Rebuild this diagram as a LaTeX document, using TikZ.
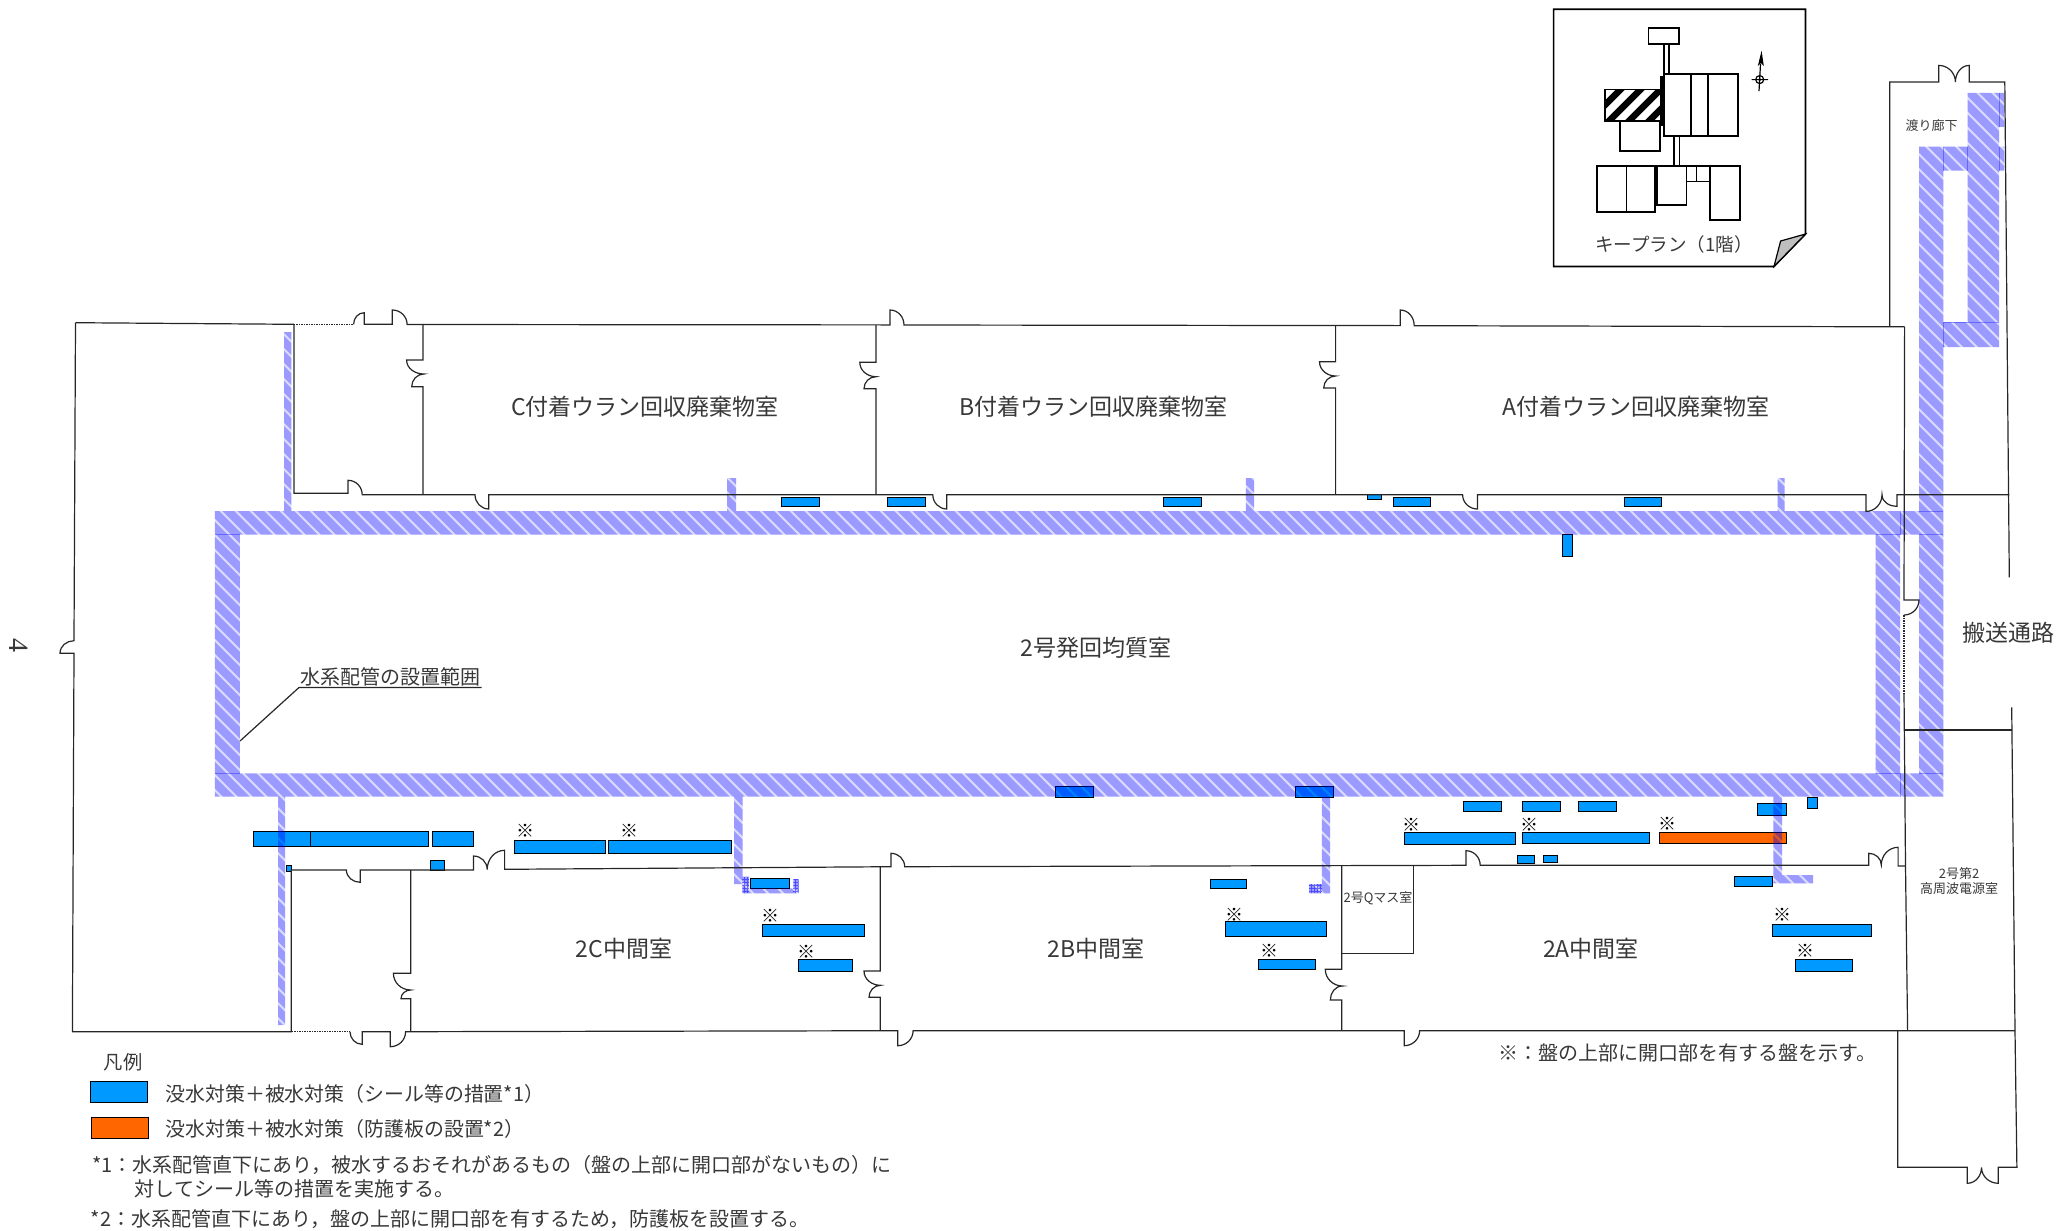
\documentclass[tikz,border=0pt]{standalone}
\usepackage{fontspec}
\setmainfont{Noto Sans CJK JP}
\newfontfamily\serifnum{Liberation Serif}
\newcommand{\fsz}[1]{\fontsize{#1bp}{#1bp}\selectfont}
\definecolor{plateblue}{HTML}{0099FF}
\definecolor{plateorange}{HTML}{FF6600}
\definecolor{pipeblue}{HTML}{0000FF}
\tikzset{
  wall/.style={draw=black!85,line width=1.2bp,line join=miter},
  dotwall/.style={draw=black!85,line width=1.2bp,dash pattern=on 1.5bp off 1bp},
  plate/.style={fill=plateblue,draw=black,line width=1bp},
  oplate/.style={fill=plateorange,draw=black,line width=1bp},
  key/.style={draw=black,line width=1.7bp},
  lab/.style={inner sep=0pt,text=black!78},
  big/.style={lab,font=\fsz{23}},
  mid/.style={lab,font=\fsz{19.9}},
  small/.style={lab,font=\fsz{13}},
  mk/.style={inner sep=0pt,text=black,font=\fsz{18}},
  seam/.style={draw=pipeblue,opacity=.35,line width=.8bp},
}
\begin{document}
\begin{tikzpicture}[x=1bp,y=-1bp]
\useasboundingbox (0,0) rectangle (2057,1230);
% ---------- plates
\foreach \a/\b/\c/\d in {
 253.6/831.3/310.2/846.3, 310.2/831.3/428/846.3, 432.7/831.3/473.5/846.3,
 514.8/840.7/605.1/853.3, 608.7/840.7/731.6/853.3,
 286.2/865/291.3/871.7, 430.6/860/444.4/870,
 750.7/878.7/789/888.7, 762.8/924/864.5/936, 798/959.3/852.7/971.3,
 781.6/497.3/819.4/506.7, 887.2/497.3/925.1/506.7, 1163.7/497.3/1201.6/506.7,
 1367.2/494.7/1381.2/499.3, 1393.2/497.3/1430.4/506.7, 1624/497.3/1661.2/506.7,
 1562.3/534.7/1572.1/556.7,
 1055.5/786.7/1093.4/797.3, 1295.8/786.7/1333.7/797.3,
 1210.9/879/1246.5/888.7, 1225/921.7/1326.9/936, 1258/959.3/1315/969.3,
 1463.3/801.3/1501.3/811, 1522/801.3/1560/811, 1578.6/801.3/1616.6/811,
 1757.8/803.7/1786.3/815.3, 1807.5/797/1817/808.7,
 1404.2/832/1515.6/844, 1522/832/1649.4/843.3,
 1517.3/855.7/1534.1/863, 1543.6/855.7/1557.5/862.7,
 1734.5/876.7/1772/886.3, 1772/924/1871.8/936, 1795.4/959.3/1852.8/971.3,
 90.8/1081/147.4/1102.7}
 {\draw[plate] (\a,\b) rectangle (\c,\d);}
\draw[oplate] (1659,832.7) rectangle (1786.3,843.7);
\draw[oplate] (91.3,1117) rectangle (148.5,1138.3);
% ---------- pipe range
\begin{scope}
\clip
 (214.8,511) rectangle (1943.3,534.5)
 (214.8,773.3) rectangle (1943.3,796.7)
 (214.8,511) rectangle (239.8,796.7)
 (1875.7,511) rectangle (1900,796.7)
 (1919,146.6) rectangle (1943.3,796.7)
 (1919,146.6) rectangle (2004.4,170.7)
 (1967.5,92.9) rectangle (1999.1,347)
 (1999.1,92.9) rectangle (2004.4,126.8)
 (1943,322) rectangle (1999.1,347)
 (284.2,332) rectangle (291.3,511.7)
 (727,478) rectangle (736.2,511.7)
 (1245.8,478) rectangle (1254.2,511.7)
 (1777.7,478) rectangle (1784.7,511.7)
 (278,796.7) rectangle (285.2,1025)
 (734.2,796.7) rectangle (742.6,884)
 (742.3,876.7) rectangle (749,893.3)
 (742.3,888.3) rectangle (798.7,893.3)
 (793.3,879) rectangle (798.7,893.3)
 (1321.9,796.7) rectangle (1330,893.3)
 (1309.2,884) rectangle (1321.9,893.3)
 (1773.3,796.7) rectangle (1782,883.3)
 (1773.3,875) rectangle (1813,883.3);
\fill[pipeblue,opacity=.14] (0,0) rectangle (2057,1230);
\foreach \c in {-1197.7,-1182.7,...,2050}
  \draw[pipeblue,opacity=.29,line width=8.3bp] (\c,0) -- (\c+1230,1230);
\draw[pipeblue,opacity=.5,line width=.6bp,step=3bp] (742.3,876.7) grid (749,893.3);
\draw[pipeblue,opacity=.5,line width=.6bp,step=3bp] (793.3,879) grid (798.7,893.3);
\draw[pipeblue,opacity=.5,line width=.6bp,step=3bp] (1309.2,884) grid (1321.9,893.3);
\end{scope}
\draw[seam] (214.8,534.8) -- (239.8,534.8) (214.8,773.3) -- (239.8,773.3)
 (1875.7,534.5) -- (1900,534.5) (1900,511) -- (1900,534.5)
 (1875.7,773.3) -- (1900,773.3) (1900,773.3) -- (1900,796.7)
 (1919,511) -- (1943.3,511) (1919,534.5) -- (1943.3,534.5)
 (1919,773.3) -- (1943.3,773.3)
 (1943,146.6) -- (1943,170.7) (1967.5,146.6) -- (1967.5,170.7)
 (1999.1,92.9) -- (1999.1,126.8) (1999.1,146.6) -- (1999.1,170.7)
 (1943,322) -- (1999.1,322) (1943,322) -- (1943,347);
% ---------- walls
\draw[wall] (75.5,322.7) -- (293.9,324.3);
\draw[dotwall] (293.9,324.3) -- (353.6,324.3);
\draw[wall] (353.6,324.3) to[out=90,in=180] (364.3,312.7) -- (364.3,324.3) -- (392.3,324.3)
  -- (392.3,310) to[out=0,in=90] (407.1,324.5) -- (890,324.9)
  -- (890,310) to[out=0,in=90] (904,325) -- (1400.2,325.6)
  -- (1400.2,310) to[out=0,in=90] (1414.2,325.7) -- (1904.6,326.8);
\draw[wall] (293.9,324.3) -- (293.9,493.3) -- (348,493.3) -- (348,480.3)
  to[out=0,in=90] (362.2,494.7) -- (475,494.7)
  to[out=-90,in=180] (488.8,509) -- (488.8,494.7) -- (932.8,494.7)
  to[out=-90,in=180] (946.8,509) -- (946.8,494.7) -- (1462.6,494.7)
  to[out=-90,in=180] (1477.4,509) -- (1477.4,494.7) -- (1866,494.7) -- (1866,511.4)
  to[out=0,in=-90] (1882,494.7) to[out=-90,in=180] (1897,506.4) -- (1897,494.7) -- (2009.4,494.7);
\draw[wall] (423,325) -- (423,360) -- (406.6,360) to[out=-90,in=180] (424,374)
  to[out=180,in=90] (411.7,386.7) -- (423,386.7) -- (423,494.7);
\draw[wall] (876,325) -- (876,362.3) -- (859.8,362.3) to[out=-90,in=180] (876,376.7)
  to[out=180,in=90] (864,388.7) -- (876,388.7) -- (876,494.7);
\draw[wall] (1335.6,325.5) -- (1335.6,361.7) -- (1319.5,361.7) to[out=-90,in=180] (1335.6,376)
  to[out=180,in=90] (1323.7,388) -- (1335.6,388) -- (1335.6,494.7);
% corridor
\draw[wall] (1889.7,326.6) -- (1889.7,82) -- (1938.7,82) -- (1938.7,65.4)
  to[out=0,in=90] (1955.4,82) to[out=90,in=180] (1969.3,65.4) -- (1969.3,82)
  -- (2004.8,82) -- (2009.3,577.3);
\draw[wall] (1904.6,326.8) -- (1904,600) -- (1919,600) to[out=-90,in=0] (1904,615);
\draw[dotwall] (1904,615) -- (1904,693.3);
\draw[wall] (1904,693.3) -- (1905.5,866) -- (1907.6,1030.7);
\draw[wall] (1904.5,730) -- (2011.7,730);
\draw[wall] (2011.7,707.3) -- (2015,1030.7) -- (2016.9,1167.3) -- (1998.3,1167.3) -- (1998.3,1183.3)
  to[out=180,in=-90] (1981.5,1167.3) to[out=-90,in=0] (1967.2,1183.3) -- (1967.2,1167.3)
  -- (1897.7,1167.3) -- (1897.7,1031);
% outer
\draw[wall] (75.5,322.7) -- (74,640.7) to[out=180,in=90] (60,653.3) -- (74,653.3) -- (72.4,1031.7) -- (291.8,1031.7);
\draw[dotwall] (291.8,1031.7) -- (350,1031.7);
\draw[wall] (350,1031.7) to[out=-90,in=180] (362.2,1044.3) -- (362.2,1031.7) -- (390.3,1031.7)
  -- (390.3,1046.7) to[out=0,in=-90] (405.6,1031.7) -- (897.8,1030.7)
  -- (897.8,1045.7) to[out=0,in=-90] (913.1,1030.7) -- (1404.2,1030.7)
  -- (1404.2,1045.7) to[out=0,in=-90] (1419.6,1030.7) -- (2015,1030.7);
% lower rooms
\draw[wall] (291.3,1031.7) -- (291.3,870) -- (346.4,870) to[out=-90,in=180] (360.2,882.3)
  -- (360.2,870) -- (473.5,870) -- (473.5,856) to[out=0,in=90] (487.2,869.5)
  to[out=90,in=180] (504.6,850.3) -- (504.6,869.3) -- (891,866.7) -- (891,853.3)
  to[out=0,in=90] (904.7,866.7) -- (1466,865.3) -- (1466,850.7)
  to[out=0,in=90] (1480.2,865.3) -- (1868.8,865.3) -- (1868.8,853.3)
  to[out=0,in=90] (1881.3,865) to[out=90,in=180] (1898.1,847.3) -- (1898.1,866) -- (1905.5,866);
\draw[wall] (410.7,870) -- (410.7,973.3) -- (393.4,973.3) to[out=-90,in=180] (410.7,990)
  to[out=180,in=90] (401,998.7) -- (410.7,998.7) -- (410.7,1031.7);
\draw[wall] (880.2,867) -- (880.2,971) -- (864,971) to[out=-90,in=180] (880.6,985.3)
  to[out=180,in=90] (869,997.3) -- (880.2,997.3) -- (880.2,1030.7);
\draw[wall] (1341.8,865.7) -- (1341.8,969.3) -- (1325.3,969.3) to[out=-90,in=180] (1342.5,986)
  to[out=180,in=90] (1330.3,1000) -- (1341.8,1000) -- (1341.8,1030.7);
\draw[wall] (1341.8,953.7) -- (1413.7,953.7) -- (1413.7,865.5);
% leader
\draw[wall] (240,741) -- (299,687.5) -- (481.5,687.5);
% ---------- key plan
\draw[key] (1553.6,9.3) -- (1805.5,9.3) -- (1805.5,234) -- (1774,266.4) -- (1553.6,266.4) -- cycle;
\filldraw[fill=black!25,draw=black,line width=1.2bp] (1774,266.4) -- (1780.6,241) -- (1805.5,234) -- cycle;
\begin{scope}
\clip (1605,89.6) rectangle (1663.8,120.7);
\foreach \c in {1690,1710,...,1810}
  \draw[black,line width=6.5bp] (\c,0) -- (\c-300,300);
\end{scope}
\fill[black] (1660,76) rectangle (1664,126);
\draw[key] (1605,89.6) rectangle (1663.8,120.7);
\draw[key] (1648.5,28.2) rectangle (1678.7,44.3);
\draw[key] (1663.8,44.3) -- (1663.8,74.3) (1668.7,44.3) -- (1668.7,74.3);
\draw[key] (1663.8,74.3) rectangle (1738,135.7);
\draw[key] (1691,74.3) -- (1691,135.7) (1707.8,74.3) -- (1707.8,135.7);
\draw[key] (1620,120.7) rectangle (1660,151);
\draw[key] (1674,135.7) -- (1674,166) (1679.4,135.7) -- (1679.4,166);
\draw[key] (1597.3,166) rectangle (1655.2,212);
\draw[key] (1626.5,166) -- (1626.5,212);
\draw[key] (1656.7,166) rectangle (1686.5,205);
\draw[key] (1686.5,166) rectangle (1710,181.4);
\draw[key] (1696.4,166) -- (1696.4,181.4);
\draw[key] (1710,166) rectangle (1740,220);
% compass
\draw[black,line width=1.2bp] (1751.5,79.6) -- (1768,79.6) (1760.5,64) -- (1759,91);
\draw[black,line width=1.2bp] (1759.7,79.6) circle (4bp);
\fill[black] (1759.7,79.6) circle (1.6bp);
\fill[black] (1761.6,50.7) -- (1763.8,66) -- (1761,63) -- (1757.8,66) -- cycle;
% ---------- labels
\node[lab,font=\fsz{18.5}] (keyplan) at (1674,244) {キープラン（1階）};
\node[small] (watari) at (1931.6,125.7) {渡り廊下};
\node[big] (croom) at (645,407) {C付着ウラン回収廃棄物室};
\node[big] (broom) at (1093.7,407) {B付着ウラン回収廃棄物室};
\node[big] (aroom) at (1636,407) {A付着ウラン回収廃棄物室};
\node[big] (homog) at (1096,648) {2号発回均質室};
\node[big] (hanso) at (2008.7,632.3) {搬送通路};
\node[lab,font=\fsz{20}] (range) at (390,677) {水系配管の設置範囲};
\node[big] (r2c) at (624,949) {2C中間室};
\node[big] (r2b) at (1096,949) {2B中間室};
\node[big] (r2a) at (1591,949) {2A中間室};
\node[small] (qmass) at (1378,898) {2号Qマス室};
\node[small] (hf1) at (1959,873.3) {2号第2};
\node[small] (hf2) at (1959,889) {高周波電源室};
\node[lab,font=\serifnum\fsz{28},rotate=-90] (four) at (18.7,645) {4};
% marks
\foreach \n/\x/\y in {m1/525.5/831, m2/629/831, m3/770.4/915.7, m4/806/952, m5/1234.2/915, m6/1269.8/951,
  m7/1411.5/825, m8/1529.4/825, m9/1667/824, m10/1782/915, m11/1805.3/951}
  \node[mk] (\n) at (\x,\y) {※};
% legend
\node[lab,font=\fsz{19.3}] (hanrei) at (123,1062.7) {凡例};
\node[mid,anchor=west] (leg1) at (165.3,1094) {没水対策＋被水対策（シール等の措置*1）};
\node[mid,anchor=west] (leg2) at (165.3,1129) {没水対策＋被水対策（防護板の設置*2）};
\node[lab,font=\fsz{20},anchor=west] (note1) at (92,1165) {*1：水系配管直下にあり，被水するおそれがあるもの（盤の上部に開口部がないもの）に};
\node[lab,font=\fsz{20},anchor=west] (note1b) at (134.7,1189) {対してシール等の措置を実施する。};
\node[lab,font=\fsz{20},anchor=west] (note2) at (90.8,1219) {*2：水系配管直下にあり，盤の上部に開口部を有するため，防護板を設置する。};
\node[lab,font=\fsz{20},anchor=west] (note3) at (1498.7,1053.3) {※：盤の上部に開口部を有する盤を示す。};
\end{tikzpicture}
\end{document}
